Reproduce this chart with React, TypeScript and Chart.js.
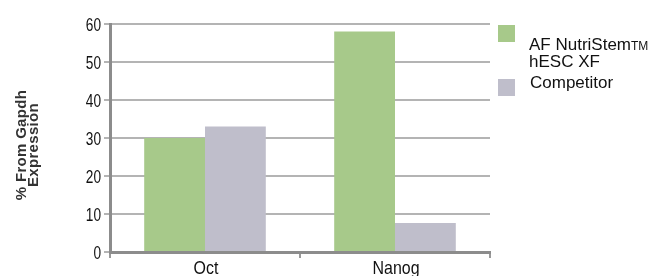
import React, { useEffect, useRef } from "react";
import { Chart, registerables } from "chart.js";

Chart.register(...registerables);

const categories = ["Oct", "Nanog"];
const nutriStemValues = [30, 58];
const competitorValues = [33, 7.6];
const yTicks = [0, 10, 20, 30, 40, 50, 60];
const seriesNames = ["AF NutriStem", "Competitor"];
const yTitleLines = ["% From Gapdh", "Expression"];

const GREEN = "#a7c98a";
const GRAY = "#bfbecb";
const FONT = "'Liberation Sans', Arial, sans-serif";

function drawScaledText(
  ctx: CanvasRenderingContext2D,
  text: string,
  x: number,
  y: number,
  sx: number,
  align: "left" | "right" | "center"
) {
  ctx.save();
  ctx.translate(x, y);
  ctx.scale(sx, 1);
  ctx.textAlign = align;
  ctx.fillText(text, 0, 0);
  ctx.restore();
}

const overlayPlugin = {
  id: "overlay",
  afterDraw(chart: any) {
    const ctx = chart.ctx as CanvasRenderingContext2D;
    const xs = chart.scales.x;
    const ys = chart.scales.y;
    ctx.save();
    ctx.fillStyle = "#111";
    ctx.textBaseline = "alphabetic";
    // Y tick labels
    ctx.font = "19px " + FONT;
    yTicks.forEach((v) => {
      const py = ys.getPixelForValue(v);
      drawScaledText(ctx, String(v), 101, py + 6.8, 0.72, "right");
    });
    // X tick labels
    categories.forEach((c, i) => {
      const px = xs.getPixelForValue(i);
      drawScaledText(ctx, c, px + 1, 273.5, 0.84, "center");
    });
    // Legend
    ctx.fillStyle = GREEN;
    ctx.fillRect(498, 25, 17, 17);
    ctx.fillStyle = GRAY;
    ctx.fillRect(498, 79, 17, 17);
    ctx.fillStyle = "#111";
    ctx.textAlign = "left";
    ctx.font = "17px " + FONT;
    ctx.fillText(seriesNames[0], 529, 50);
    const w = ctx.measureText(seriesNames[0]).width;
    ctx.font = "12px " + FONT;
    ctx.fillText("TM", 529 + w, 50);
    ctx.font = "17px " + FONT;
    ctx.fillText("hESC XF", 529, 67);
    ctx.fillText(seriesNames[1], 530, 88);
    // Y title
    ctx.fillStyle = "#333";
    ctx.font = "bold 15px " + FONT;
    (ctx as any).letterSpacing = "0.3px";
    ctx.textAlign = "center";
    ctx.textBaseline = "alphabetic";
    ctx.translate(0, 145);
    ctx.rotate(-Math.PI / 2);
    ctx.fillText(yTitleLines[0], 0, 26);
    ctx.fillText(yTitleLines[1], 0, 38);
    ctx.restore();
  },
};

export default function App() {
  const ref = useRef<HTMLCanvasElement>(null);
  useEffect(() => {
    if (!ref.current) return;
    const chart = new Chart(ref.current, {
      type: "bar",
      data: {
        labels: categories,
        datasets: [
          {
            label: seriesNames[0],
            data: nutriStemValues,
            backgroundColor: GREEN,
            categoryPercentage: 0.64,
            barPercentage: 1,
          },
          {
            label: seriesNames[1],
            data: competitorValues,
            backgroundColor: GRAY,
            categoryPercentage: 0.64,
            barPercentage: 1,
          },
        ],
      },
      options: {
        responsive: false,
        animation: false,
        layout: { padding: { left: 40, right: 163, top: 24, bottom: 0 } },
        plugins: { legend: { display: false }, tooltip: { enabled: false } },
        scales: {
          x: {
            offset: true,
            grid: {
              display: true,
              offset: true,
              drawOnChartArea: false,
              drawTicks: true,
              tickLength: 6,
              color: "#999",
              lineWidth: 2,
            },
            border: { display: true, color: "#8c8c8c", width: 3 },
            ticks: { display: false },
            afterFit: (s: any) => {
              s.height = 24;
            },
          },
          y: {
            min: 0,
            max: 60,
            afterBuildTicks: (s: any) => {
              s.ticks = yTicks.map((v) => ({ value: v }));
            },
            ticks: { display: false },
            grid: {
              color: "#b4b4b4",
              lineWidth: 2,
              tickLength: 6,
              drawTicks: true,
            },
            border: { display: true, color: "#8c8c8c", width: 3 },
            afterFit: (s: any) => {
              s.width = 70;
            },
          },
        },
      },
      plugins: [overlayPlugin],
    });
    return () => chart.destroy();
  }, []);
  return (
    <div style={{ position: "fixed", left: 0, top: 0, width: 653, height: 276, background: "#fff" }}>
      <canvas ref={ref} width={653} height={276} />
    </div>
  );
}
